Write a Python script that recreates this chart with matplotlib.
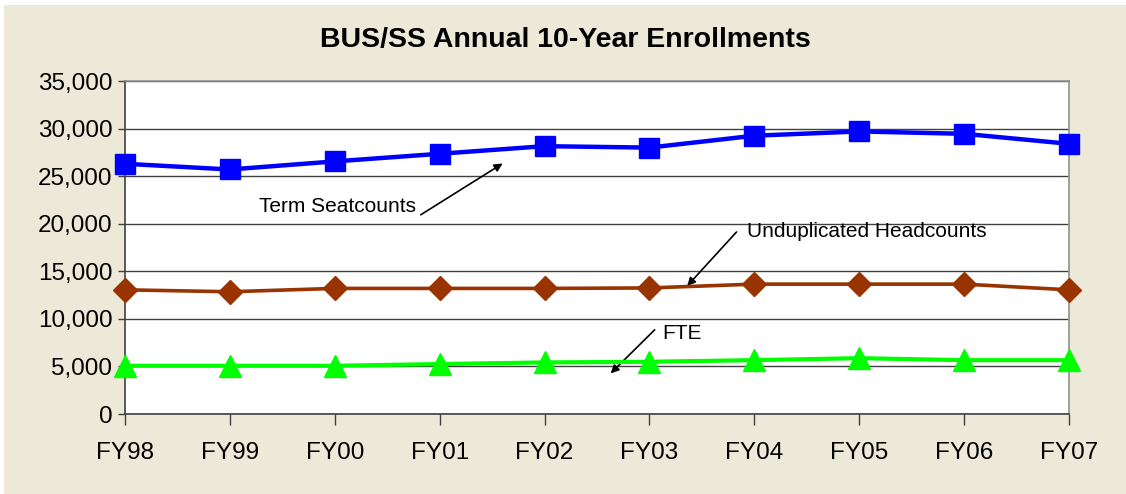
import matplotlib
matplotlib.use("Agg")
import matplotlib.pyplot as plt
from matplotlib.patches import Rectangle
from matplotlib.ticker import FuncFormatter

plt.rcParams["font.family"] = ["Liberation Sans", "DejaVu Sans"]

years = ["FY98", "FY99", "FY00", "FY01", "FY02", "FY03", "FY04", "FY05", "FY06", "FY07"]
seatcounts = [26300, 25700, 26550, 27350, 28150, 28000, 29250, 29700, 29450, 28400]
headcounts = [13050, 12850, 13200, 13200, 13200, 13250, 13650, 13650, 13650, 13050]
fte = [5070, 5070, 5070, 5250, 5420, 5490, 5660, 5870, 5660, 5660]

bg = "#ECE9D8"

fig = plt.figure(figsize=(11.26, 4.94), dpi=100)
fig.patch.set_facecolor("white")
fig.patches.append(Rectangle((4 / 1126, 0), 1, (494 - 5) / 494, transform=fig.transFigure,
                             facecolor=bg, edgecolor="none", zorder=-10))

ax = fig.add_axes([125 / 1126, 80 / 494, 944 / 1126, 333 / 494])
x = list(range(len(years)))

ax.plot(x, seatcounts, color="#0000FF", lw=3.2, marker="s", ms=14, clip_on=False, zorder=5)
ax.plot(x, headcounts, color="#993300", lw=2.6, marker="D", ms=12, clip_on=False, zorder=5)
ax.plot(x, fte, color="#00FF00", lw=3.0, marker="^", ms=16, clip_on=False, zorder=5)

ax.set_xlim(0, 9)
ax.set_ylim(0, 35000)
ax.set_xticks(x)
ax.set_xticklabels(years)
ax.set_yticks(range(0, 35001, 5000))
ax.yaxis.set_major_formatter(FuncFormatter(lambda v, p: f"{int(v):,}"))
ax.tick_params(axis="both", labelsize=17.5, colors="#404040", labelcolor="black")
ax.tick_params(axis="y", length=5, width=1, pad=4)
ax.tick_params(axis="x", length=8, width=1, pad=12)
ax.grid(axis="y", color="#404040", lw=1)
ax.set_axisbelow(True)
for side in ["left", "bottom"]:
    ax.spines[side].set_color("#404040")
    ax.spines[side].set_linewidth(1.2)
for side in ["top", "right"]:
    ax.spines[side].set_color("#909090")
    ax.spines[side].set_linewidth(1.2)

fig.text(565 / 1126, 1 - 40 / 494, "BUS/SS Annual 10-Year Enrollments", ha="center", va="center",
         fontsize=20.5, fontweight="bold")

# labels and pointer arrows
arrow = dict(arrowstyle="-|>", color="black", lw=1.2, mutation_scale=12, shrinkA=0, shrinkB=0)
ax.text(2.77, 21850, "Term Seatcounts", ha="right", va="center", fontsize=15)
ax.annotate("", xy=(3.6, 26330), xytext=(2.82, 20940), arrowprops=arrow)
ax.text(5.93, 19160, "Unduplicated Headcounts", ha="left", va="center", fontsize=15)
ax.annotate("", xy=(5.36, 13460), xytext=(5.83, 19130), arrowprops=arrow)
ax.text(5.12, 8500, "FTE", ha="left", va="center", fontsize=15)
ax.annotate("", xy=(4.63, 4270), xytext=(5.05, 8850), arrowprops=arrow)

fig.savefig("out.png", dpi=100, facecolor=fig.get_facecolor())
